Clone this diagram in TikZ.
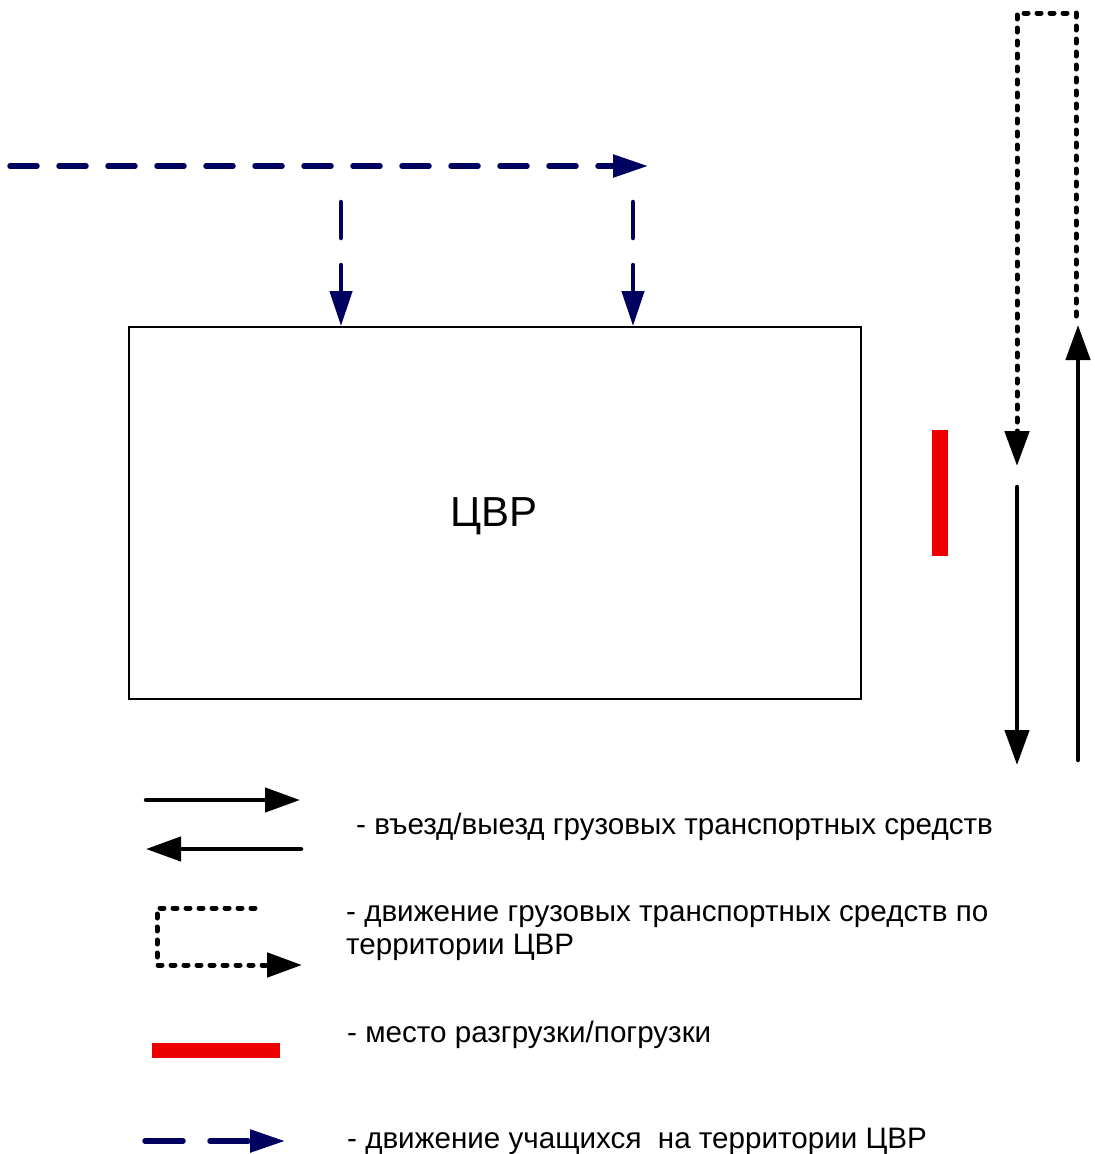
\documentclass[tikz,border=0pt]{standalone}
\usepackage{fontspec}
\setmainfont{Liberation Sans}
\usetikzlibrary{arrows.meta}
\definecolor{navy}{RGB}{0,0,96}
\definecolor{loadred}{RGB}{238,0,0}
\tikzset{
  navyline/.style={draw=navy,line width=5.5pt,line cap=round,dash pattern=on 27pt off 22pt},
  navyvert/.style={draw=navy,line width=4.5pt,line cap=round,dash pattern=on 36pt off 27pt},
  navyhead/.style={-{Triangle[length=35pt,width=22pt]}},
  truckline/.style={draw=black,line width=4.5pt,line cap=round},
  dotline/.style={draw=black,line width=5pt,line cap=round,dash pattern=on 4pt off 9pt},
  blackhead/.style={-{Triangle[length=35pt,width=24pt]}},
  legendtext/.style={anchor=base west,inner sep=0pt,font=\fontsize{29.6}{33}\selectfont,align=left},
}
\begin{document}
\begin{tikzpicture}[x=1pt,y=-1pt]
\useasboundingbox (0,0) rectangle (1095,1154);
% building
\node[draw=black,line width=1.5pt,minimum width=732pt,minimum height=372pt,inner sep=0pt,anchor=north west] (cvr) at (128,326) {};
\node[anchor=base,inner sep=0pt,font=\fontsize{42}{46}\selectfont] (cvrlabel) at (494,526) {ЦВР};

% student path
\coordinate (s0) at (10,166);
\coordinate (s1) at (648,166);
\draw[navyline,navyhead] (s0) -- (s1);
\coordinate (d1a) at (341,202);
\coordinate (d1b) at (341,326);
\coordinate (d2a) at (633,202);
\coordinate (d2b) at (633,326);
\draw[navyvert,navyhead] (d1a) -- (d1b);
\draw[navyvert,navyhead] (d2a) -- (d2b);

% trucks
\coordinate (upA) at (1078,760);
\coordinate (upB) at (1078,325);
\draw[truckline,blackhead] (upA) -- (upB);
\coordinate (dt0) at (1076,316);
\coordinate (dt1) at (1076,13);
\coordinate (dt2) at (1017,13);
\coordinate (dt3) at (1017,466);
\draw[dotline,blackhead] (dt0) -- (dt1) -- (dt2) -- (dt3);
\coordinate (dnA) at (1017,487);
\coordinate (dnB) at (1017,765);
\draw[truckline,blackhead] (dnA) -- (dnB);

% unloading place
\node[fill=loadred,minimum width=16pt,minimum height=126pt,inner sep=0pt,anchor=north west] (unload) at (932,430) {};

% legend
\coordinate (l1a) at (146,800);
\coordinate (l1b) at (300,800);
\draw[truckline,blackhead] (l1a) -- (l1b);
\coordinate (l2a) at (301,849);
\coordinate (l2b) at (146,849);
\draw[truckline,blackhead] (l2a) -- (l2b);
\node[legendtext] (t1) at (356,834) {- въезд/выезд грузовых транспортных средств};

\coordinate (l3a) at (255,908);
\coordinate (l3b) at (157,908);
\coordinate (l3c) at (157,965);
\coordinate (l3d) at (302,965);
\draw[dotline,blackhead] (l3a) -- (l3b) -- (l3c) -- (l3d);
\node[legendtext] (t2) at (346,954) {- движение грузовых транспортных средств по\\территории ЦВР};

\node[fill=loadred,minimum width=128pt,minimum height=15pt,inner sep=0pt,anchor=north west] (lred) at (152,1043) {};
\node[legendtext] (t3) at (347,1042) {- место разгрузки/погрузки};

\coordinate (l4a) at (145,1141);
\coordinate (l4b) at (285,1141);
\draw[draw=navy,line width=5.5pt,line cap=round,dash pattern=on 38pt off 27pt,navyhead] (l4a) -- (l4b);
\node[legendtext] (t4) at (347,1148) {- движение учащихся\ \ на территории ЦВР};
\end{tikzpicture}
\end{document}
